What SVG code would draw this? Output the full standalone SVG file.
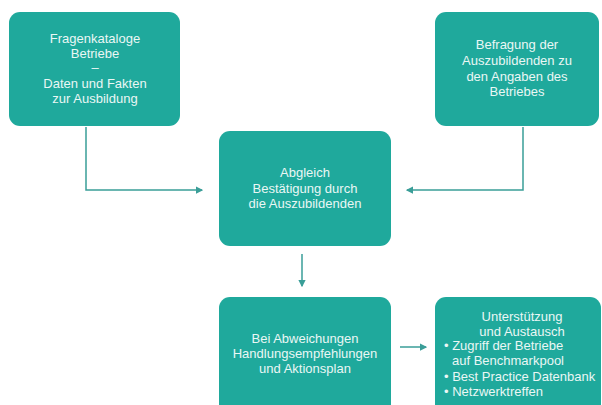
<svg xmlns="http://www.w3.org/2000/svg" width="602" height="405" viewBox="0 0 602 405">
<defs>
<style>
.box{fill:#1fa99c}
.t{font-family:"Liberation Sans",Arial,sans-serif;font-size:13px;fill:#eaf7f5;text-anchor:middle}
.l{text-anchor:start}
.c{fill:none;stroke:#3a9e98;stroke-width:1.5}
</style>
<marker id="ah" viewBox="0 0 6 6" refX="5" refY="3" markerWidth="5" markerHeight="5" orient="auto">
<path d="M0,0 L6,3 L0,6 z" fill="#3a9e98"/>
</marker>
</defs>
<rect width="602" height="405" fill="#ffffff"/>
<g id="connectors">
<path class="c" d="M86,127 V190 H202" marker-end="url(#ah)"/>
<path class="c" d="M523,127 V190 H407" marker-end="url(#ah)"/>
<path class="c" d="M302,254 V286" marker-end="url(#ah)"/>
<path class="c" d="M400,347 H426" marker-end="url(#ah)"/>
</g>
<g id="n1">
<rect class="box" x="9" y="12" width="171" height="114" rx="11"/>
<text class="t" x="95" y="43">Fragenkataloge</text>
<text class="t" x="95" y="58">Betriebe</text>
<text class="t" x="95" y="72">–</text>
<text class="t" x="95" y="88">Daten und Fakten</text>
<text class="t" x="95" y="103">zur Ausbildung</text>
</g>
<g id="n2">
<rect class="box" x="435" y="12" width="164" height="114" rx="11"/>
<text class="t" x="517" y="49">Befragung der</text>
<text class="t" x="517" y="65">Auszubildenden zu</text>
<text class="t" x="517" y="81">den Angaben des</text>
<text class="t" x="517" y="96">Betriebes</text>
</g>
<g id="n3">
<rect class="box" x="219" y="131" width="172" height="115" rx="11"/>
<text class="t" x="305" y="177">Abgleich</text>
<text class="t" x="305" y="193">Bestätigung durch</text>
<text class="t" x="305" y="208">die Auszubildenden</text>
</g>
<g id="n4">
<rect class="box" x="219" y="297" width="172" height="125" rx="11"/>
<text class="t" x="305" y="343">Bei Abweichungen</text>
<text class="t" x="305" y="358">Handlungsempfehlungen</text>
<text class="t" x="305" y="373">und Aktionsplan</text>
</g>
<g id="n5">
<rect class="box" x="435" y="297" width="166" height="125" rx="11"/>
<text class="t" x="522" y="321">Unterstützung</text>
<text class="t" x="522" y="336">und Austausch</text>
<text class="t l" x="444" y="350">• Zugriff der Betriebe</text>
<text class="t l" x="452" y="365">auf Benchmarkpool</text>
<text class="t l" x="444" y="381">• Best Practice Datenbank</text>
<text class="t l" x="444" y="396">• Netzwerktreffen</text>
</g>
</svg>
